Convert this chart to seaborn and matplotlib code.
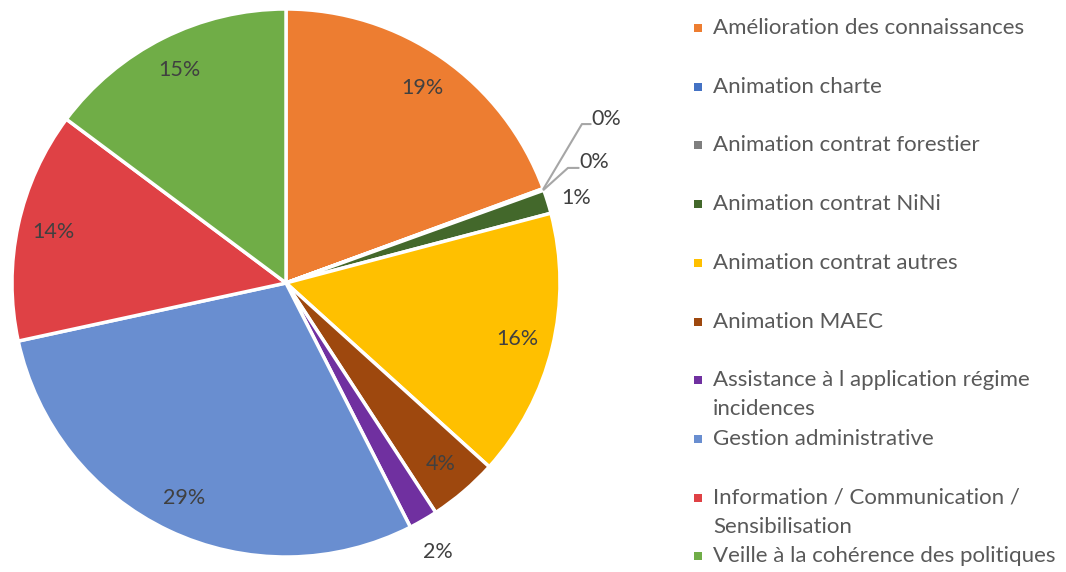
import numpy as np
import matplotlib
matplotlib.use("Agg")
import matplotlib.pyplot as plt
from matplotlib.patches import Rectangle
import seaborn as sns

sns.set_theme(style="white")
plt.rcParams['font.family'] = ['Lato', 'DejaVu Sans']

# Data
categories = [
    "Amélioration des connaissances",
    "Animation charte",
    "Animation contrat forestier",
    "Animation contrat NiNi",
    "Animation contrat autres",
    "Animation MAEC",
    "Assistance à l application régime\nincidences",
    "Gestion administrative",
    "Information / Communication /\nSensibilisation",
    "Veille à la cohérence des politiques",
]
shares = [19.4, 0.05, 0.05, 1.4, 15.8, 4.1, 1.7, 29.1, 13.6, 14.8]
colors = ["#ED7D31", "#4472C4", "#7F7F7F", "#43682B", "#FFC000",
          "#9E480E", "#7030A0", "#698ED0", "#DF4145", "#70AD47"]

W, H = 1066, 572
fig = plt.figure(figsize=(W / 100, H / 100), dpi=100)

# pie axes: center (286, 283), radius 274 px
cx, cy, R = 286, 283, 274
ax = fig.add_axes([(cx - R) / W, (H - cy - R) / H, 2 * R / W, 2 * R / H])
wedges, _ = ax.pie(shares, colors=colors, startangle=90, counterclock=False,
                   radius=1, wedgeprops=dict(edgecolor="white", linewidth=2.5))
ax.set_xlim(-1, 1)
ax.set_ylim(-1, 1)
ax.set_aspect("equal")
ax.axis("off")

label_color = "#404040"
fs = 15.5
zero_seen = 0
for w, v in zip(wedges, shares):
    mid = np.deg2rad((w.theta1 + w.theta2) / 2)
    txt = f"{v:.0f}%"
    if v < 0.5:
        # leader line labels for the empty slices
        ex, ey = np.cos(mid), np.sin(mid)
        if zero_seen == 0:
            elbow, end, tpos = (1.080, 0.580), (1.112, 0.580), (1.115, 0.60)
        else:
            elbow, end, tpos = (1.029, 0.420), (1.068, 0.420), (1.07, 0.44)
        ax.plot([ex, elbow[0], end[0]], [ey, elbow[1], end[1]],
                color="#A6A6A6", lw=1.5, clip_on=False)
        ax.text(tpos[0], tpos[1], txt, ha="left", va="center",
                fontsize=fs, color=label_color)
        zero_seen += 1
    elif v < 3:
        r = 1.11
        ax.text(r * np.cos(mid), r * np.sin(mid) - 0.02, txt, ha="center",
                va="center", fontsize=fs, color=label_color)
    else:
        r = 0.87
        ax.text(r * np.cos(mid), r * np.sin(mid), txt, ha="center", va="center",
                fontsize=fs, color=label_color)

# legend drawn in pixel coordinates
lg = fig.add_axes([0, 0, 1, 1], zorder=-1)
lg.set_xlim(0, W)
lg.set_ylim(H, 0)
lg.axis("off")
y0, step = 28, 58.7
for i, (lab, col) in enumerate(zip(categories, colors)):
    y = y0 + i * step
    lg.add_patch(Rectangle((694, y - 4), 8, 8, color=col, lw=0))
    for k, line in enumerate(lab.split("\n")):
        lg.text(713, y + k * 29, line, ha="left", va="center",
                fontsize=16, color="#595959")

fig.savefig("out.png", dpi=100)
